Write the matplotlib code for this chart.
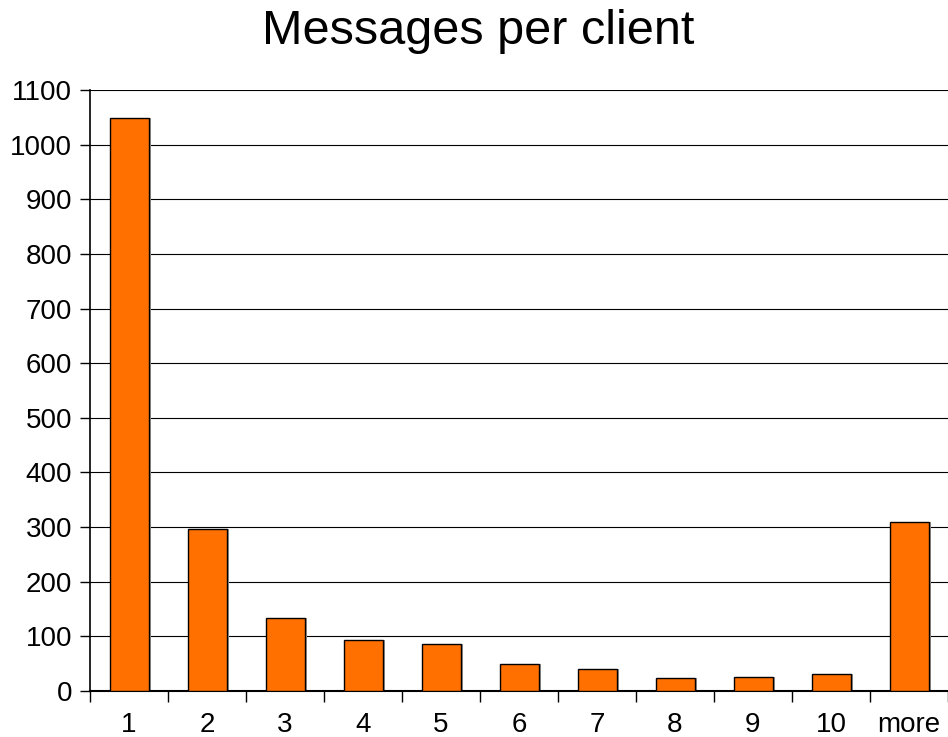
import matplotlib
matplotlib.use("Agg")
import matplotlib.pyplot as plt
import numpy as np

categories = ["1", "2", "3", "4", "5", "6", "7", "8", "9", "10", "more"]
counts = [1048, 297, 133, 93, 86, 50, 41, 23, 25, 31, 310]
y_ticks = list(range(0, 1101, 100))

plt.rcParams["font.family"] = ["Liberation Sans", "DejaVu Sans"]

fig = plt.figure(figsize=(9.48, 7.37), dpi=100)
ax = fig.add_axes([90 / 948, 1 - 691 / 737, 1 - 90 / 948, (691 - 90) / 737])

x = np.arange(len(categories))
# soft drop shadow behind each bar
ax.bar(x + 0.03, counts, width=0.5, color="#9a9a9a", zorder=2)
ax.bar(x, counts, width=0.5, color="#FF7000", edgecolor="black", linewidth=1.0, zorder=3)

ax.set_xlim(-0.5, len(categories) - 0.5)
ax.set_ylim(0, 1100)
ax.set_yticks(y_ticks)
ax.set_yticklabels([str(v) for v in y_ticks], fontsize=20)
ax.yaxis.grid(True, color="black", linewidth=0.8, zorder=0)
ax.set_axisbelow(True)

# category labels centred, ticks on the category boundaries
ax.set_xticks(x)
ax.set_xticklabels(categories, fontsize=20)
ax.tick_params(axis="x", which="major", length=0, pad=15)
ax.set_xticks(np.arange(-0.5, len(categories) - 0.5 + 0.01, 1.0), minor=True)
ax.tick_params(axis="x", which="minor", length=8, width=1, color="black", direction="out")
ax.tick_params(axis="y", length=7, width=1, direction="out", pad=6)

for side in ("top", "right"):
    ax.spines[side].set_visible(False)
ax.spines["left"].set_linewidth(1.2)
ax.spines["bottom"].set_linewidth(1.5)

fig.text(478 / 948, 1 - 32 / 737, "Messages per client", fontsize=35, ha="center", va="center")

fig.savefig("out.png", dpi=100)
